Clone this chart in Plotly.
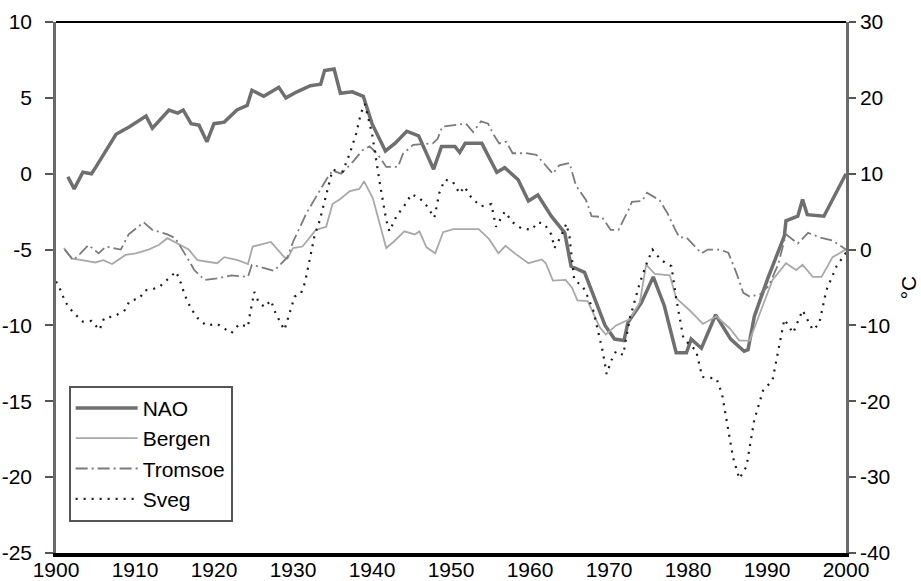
import plotly.graph_objects as go

# ---------------- data ----------------
nao_years = [1901.5, 1902.3, 1903.4, 1904.5, 1905.0, 1906.7, 1907.6, 1909.3, 1910.5, 1911.4,
             1912.2, 1914.3, 1915.4, 1916.1, 1917.1, 1918.1, 1919.1, 1920.0, 1921.3, 1922.9,
             1924.2, 1924.8, 1926.3, 1928.2, 1929.1, 1930.5, 1932.2, 1933.5, 1934.0, 1935.2,
             1936.0, 1937.5, 1938.9, 1940.0, 1941.7, 1942.9, 1944.4, 1945.9, 1947.8, 1948.8,
             1950.5, 1951.1, 1951.8, 1953.9, 1955.8, 1956.8, 1958.5, 1959.8, 1961.0, 1962.7,
             1964.4, 1965.2, 1966.9, 1968.2, 1969.5, 1970.7, 1971.9, 1972.4, 1974.1, 1975.6,
             1977.0, 1978.5, 1979.8, 1980.4, 1981.7, 1983.5, 1985.4, 1987.1, 1987.6, 1988.4,
             1990.1, 1992.2, 1992.4, 1993.9, 1994.5, 1995.1, 1997.2, 2000.0]
nao_values = [-0.2, -1.0, 0.1, 0.0, 0.4, 1.8, 2.6, 3.1, 3.5, 3.8,
              3.0, 4.2, 4.0, 4.2, 3.3, 3.2, 2.1, 3.3, 3.4, 4.2,
              4.5, 5.5, 5.1, 5.7, 5.0, 5.4, 5.8, 5.9, 6.8, 6.9,
              5.3, 5.4, 5.1, 3.3, 1.5, 2.0, 2.8, 2.5, 0.3, 1.8,
              1.8, 1.4, 2.0, 2.0, 0.1, 0.4, -0.4, -1.8, -1.4, -2.8,
              -3.9, -6.1, -6.5, -8.2, -10.0, -10.9, -11.0, -9.8, -8.5, -6.8,
              -8.7, -11.8, -11.8, -10.9, -11.5, -9.3, -10.9, -11.7, -11.6, -9.4,
              -6.9, -4.1, -3.1, -2.8, -1.7, -2.7, -2.8, 0.0]

bergen_years = [1901.0, 1902.0, 1903.3, 1905.0, 1906.0, 1907.1, 1908.8, 1910.1, 1911.7, 1913.0,
                1914.1, 1915.3, 1916.8, 1917.9, 1920.4, 1921.3, 1923.0, 1924.3, 1924.9, 1927.2,
                1928.9, 1929.3, 1930.0, 1931.2, 1932.9, 1934.2, 1935.0, 1935.9, 1937.2, 1938.4,
                1939.0, 1940.1, 1941.8, 1942.7, 1944.1, 1945.4, 1946.0, 1946.9, 1948.0, 1949.0,
                1950.3, 1953.5, 1954.8, 1956.0, 1956.9, 1958.2, 1959.8, 1961.5, 1962.0, 1962.9,
                1964.5, 1965.3, 1966.0, 1967.3, 1968.8, 1969.6, 1970.9, 1972.6, 1973.9, 1974.7,
                1975.8, 1977.7, 1978.5, 1980.2, 1981.9, 1983.6, 1985.3, 1986.5, 1987.8, 1989.1,
                1990.7, 1992.4, 1993.7, 1994.5, 1995.8, 1996.9, 1998.3, 2000.0]
bergen_values = [0.2, -1.2, -1.4, -1.7, -1.4, -1.9, -0.7, -0.5, 0.0, 0.6,
                 1.5, 0.8, 0.0, -1.4, -1.8, -1.0, -1.4, -1.9, 0.4, 1.0,
                 -1.0, -1.2, 0.2, 0.4, 2.6, 3.0, 6.0, 6.6, 7.7, 8.0,
                 9.0, 6.8, 0.2, 1.0, 2.4, 2.0, 2.4, 0.3, -0.5, 2.3,
                 2.7, 2.7, 1.4, -0.5, 0.5, -0.6, -1.8, -1.3, -1.8, -4.1,
                 -4.0, -5.0, -6.7, -6.8, -10.2, -11.2, -10.0, -9.2, -7.0, -2.0,
                 -3.2, -3.4, -6.4, -8.0, -9.8, -8.8, -10.4, -12.0, -12.0, -8.4,
                 -4.0, -1.8, -2.7, -2.0, -3.6, -3.6, -1.0, 0.0]

tromsoe_years = [1901.1, 1902.2, 1903.1, 1904.1, 1905.4, 1906.3, 1908.2, 1909.2, 1911.1, 1912.2,
                 1914.1, 1915.1, 1916.8, 1917.5, 1918.8, 1920.5, 1922.2, 1924.3, 1924.8, 1926.5,
                 1927.6, 1929.3, 1930.0, 1931.7, 1934.2, 1935.0, 1936.1, 1937.6, 1938.8, 1939.7,
                 1940.7, 1941.8, 1943.3, 1943.9, 1945.2, 1947.7, 1948.3, 1948.9, 1951.9, 1952.8,
                 1953.8, 1954.7, 1955.3, 1956.1, 1957.0, 1957.8, 1959.5, 1960.8, 1962.9, 1963.7,
                 1965.0, 1965.8, 1967.1, 1967.8, 1969.1, 1970.2, 1971.2, 1972.5, 1972.9, 1974.2,
                 1974.8, 1976.4, 1977.4, 1978.3, 1978.9, 1979.8, 1981.7, 1982.5, 1984.0, 1985.1,
                 1986.1, 1987.0, 1987.8, 1989.1, 1990.2, 1991.4, 1992.4, 1993.9, 1995.2, 1996.7,
                 1998.3, 2000.0]
tromsoe_values = [0.0, -1.4, -0.5, 0.6, -0.5, 0.4, 0.0, 2.0, 3.6, 2.6,
                  2.0, 1.5, -1.4, -2.7, -4.0, -3.8, -3.4, -3.6, -2.0, -2.5,
                  -2.8, -1.0, 1.0, 4.8, 9.2, 10.4, 10.0, 11.6, 13.1, 13.6,
                  12.6, 10.9, 10.9, 12.6, 13.8, 14.0, 14.6, 16.2, 16.6, 15.5,
                  16.9, 16.6, 15.3, 14.0, 14.2, 12.7, 12.7, 12.5, 10.0, 11.1,
                  11.4, 8.5, 6.5, 4.4, 4.3, 2.6, 2.6, 5.3, 6.3, 6.4,
                  7.5, 6.5, 4.8, 2.8, 1.6, 1.6, -0.5, 0.0, 0.0, -0.4,
                  -3.0, -5.7, -6.2, -5.9, -4.8, -2.0, 2.0, 0.8, 2.2, 1.6,
                  1.2, 0.0]

sveg_years = [1900.0, 1900.7, 1901.1, 1902.1, 1903.4, 1904.5, 1905.5, 1906.1, 1907.4, 1908.7,
              1909.3, 1910.6, 1911.2, 1912.3, 1913.1, 1914.2, 1915.2, 1915.8, 1916.3, 1917.1,
              1917.9, 1919.0, 1920.4, 1922.2, 1923.2, 1924.3, 1924.5, 1925.1, 1925.6, 1926.4,
              1927.2, 1927.8, 1928.9, 1929.3, 1930.2, 1931.0, 1931.5, 1932.1, 1932.7, 1933.4,
              1934.2, 1935.0, 1936.3, 1937.2, 1938.0, 1938.6, 1939.1, 1939.5, 1940.0, 1941.0,
              1941.4, 1941.8, 1942.2, 1943.1, 1944.1, 1945.0, 1946.0, 1946.9, 1947.9, 1948.5,
              1949.2, 1950.2, 1951.1, 1951.7, 1952.6, 1953.8, 1955.1, 1955.7, 1956.8, 1957.8,
              1958.9, 1960.2, 1961.0, 1961.8, 1962.7, 1963.1, 1963.9, 1964.6, 1965.0, 1965.4,
              1965.6, 1966.7, 1967.3, 1968.0, 1968.8, 1969.2, 1969.7, 1970.3, 1970.9, 1971.8,
              1972.6, 1973.9, 1974.7, 1975.5, 1976.6, 1977.9, 1978.5, 1979.4, 1980.4, 1981.0,
              1981.8, 1983.6, 1984.3, 1985.1, 1985.7, 1986.5, 1987.4, 1988.4, 1989.5, 1990.7,
              1991.6, 1992.2, 1993.3, 1994.5, 1995.8, 1996.6, 1997.5, 1998.8, 2000.0]
sveg_values = [-4.2, -5.6, -6.8, -8.2, -9.5, -9.4, -10.6, -9.0, -8.8, -8.0,
               -6.8, -6.4, -5.4, -5.2, -4.9, -3.8, -2.9, -4.4, -6.0, -7.8,
               -9.0, -10.0, -9.8, -11.0, -9.8, -10.2, -8.8, -5.6, -6.8, -7.6,
               -6.7, -8.4, -10.6, -9.3, -6.2, -5.8, -4.4, -1.4, 1.7, 3.9,
               7.4, 10.5, 10.3, 12.7, 15.3, 18.0, 19.2, 17.5, 15.3, 8.7,
               6.5, 3.9, 2.4, 4.4, 5.8, 7.3, 6.8, 5.8, 4.2, 7.4,
               9.2, 9.0, 7.4, 8.3, 6.8, 5.7, 6.0, 3.0, 5.0, 3.6,
               2.8, 2.6, 3.6, 3.4, 2.0, 0.2, 1.7, 3.4, 1.7, -2.2,
               -4.0, -4.9, -6.2, -8.0, -11.9, -13.4, -16.4, -14.6, -13.4, -13.9,
               -9.2, -4.4, -2.0, 0.0, -1.4, -2.2, -6.4, -11.6, -12.8, -13.2,
               -16.8, -17.0, -19.0, -23.8, -27.4, -30.2, -28.6, -22.4, -18.6, -17.2,
               -12.4, -9.2, -11.0, -8.0, -10.6, -9.8, -5.4, -2.2, -0.4]

x_ticks = [1900, 1910, 1920, 1930, 1940, 1950, 1960, 1970, 1980, 1990, 2000]
x_tick_labels = ["1900", "1910", "1920", "1930", "1940", "1950", "1960", "1970", "1980", "1990", "2000"]
left_ticks = [10, 5, 0, -5, -10, -15, -20, -25]
left_tick_labels = ["10", "5", "0", "-5", "-10", "-15", "-20", "-25"]
right_ticks = [30, 20, 10, 0, -10, -20, -30, -40]
right_tick_labels = ["30", "20", "10", "0", "-10", "-20", "-30", "-40"]

FONT = "Liberation Sans, Arial, Helvetica, sans-serif"
FS = 21

fig = go.Figure()
fig.add_trace(go.Scatter(x=nao_years, y=nao_values, name="NAO", mode="lines",
                         line=dict(color="#6f6f6f", width=3.5), yaxis="y"))
fig.add_trace(go.Scatter(x=bergen_years, y=bergen_values, name="Bergen", mode="lines",
                         line=dict(color="#a9a9a9", width=1.8), yaxis="y2"))
fig.add_trace(go.Scatter(x=tromsoe_years, y=tromsoe_values, name="Tromsoe", mode="lines",
                         line=dict(color="#7b7b7b", width=1.8, dash="12px,4px,2px,4px"), yaxis="y2"))
fig.add_trace(go.Scatter(x=sveg_years, y=sveg_values, name="Sveg", mode="lines",
                         line=dict(color="#1c1c1c", width=2.2, dash="2px,6px"), yaxis="y2"))

fig.update_layout(
    width=921, height=581,
    margin=dict(l=56, r=75, t=22, b=28, autoexpand=False),
    paper_bgcolor="white", plot_bgcolor="white",
    font=dict(family=FONT, size=FS, color="black"),
    showlegend=True,
    legend=dict(x=0.016, y=0.315, xanchor="left", yanchor="top",
                bgcolor="white", bordercolor="#555555", borderwidth=2,
                font=dict(family=FONT, size=FS, color="black"),
                tracegroupgap=0, itemwidth=62),
    xaxis=dict(range=[1900, 2000], tickmode="array", tickvals=x_ticks, ticktext=x_tick_labels,
               showgrid=False, zeroline=False, showline=True, linecolor="black", linewidth=4,
               ticks="", automargin=False, ticklabelstandoff=-5,
               tickfont=dict(family=FONT, size=FS, color="black")),
    yaxis=dict(range=[-25, 10], tickmode="array", tickvals=left_ticks, ticktext=left_tick_labels,
               showgrid=False, zeroline=False, showline=True, linecolor="#6a6a6a", linewidth=2.5,
               ticks="outside", ticklen=8, tickwidth=2, tickcolor="#555555", automargin=False,
               ticklabelstandoff=9,
               tickfont=dict(family=FONT, size=FS, color="black")),
    yaxis2=dict(range=[-40, 30], overlaying="y", side="right", anchor="x",
                tickmode="array", tickvals=right_ticks, ticktext=right_tick_labels,
                showgrid=False, zeroline=False, showline=True, linecolor="#6a6a6a", linewidth=2.5,
                ticks="outside", ticklen=7, tickwidth=2, tickcolor="#555555", automargin=False,
                tickfont=dict(family=FONT, size=FS, color="black"),
                title=dict(text="°C", font=dict(family=FONT, size=FS, color="black"), standoff=12)),
    yaxis3=dict(range=[-40, 30], overlaying="y", side="right", anchor="x",
                tickmode="array", tickvals=right_ticks, showticklabels=False, automargin=False,
                showgrid=False, zeroline=False, showline=False,
                ticks="inside", ticklen=7, tickwidth=2, tickcolor="#555555"),
    shapes=[dict(type="line", xref="paper", yref="paper", x0=0, x1=1, y0=1, y1=1,
                 line=dict(color="black", width=1.8))],
)

# remove the default 8px page margin so the 921x581 figure fills the window exactly
fig.write_html("out.html",
               config={"displayModeBar": False},
               post_script="document.body.style.margin='0';document.body.style.overflow='hidden';")
